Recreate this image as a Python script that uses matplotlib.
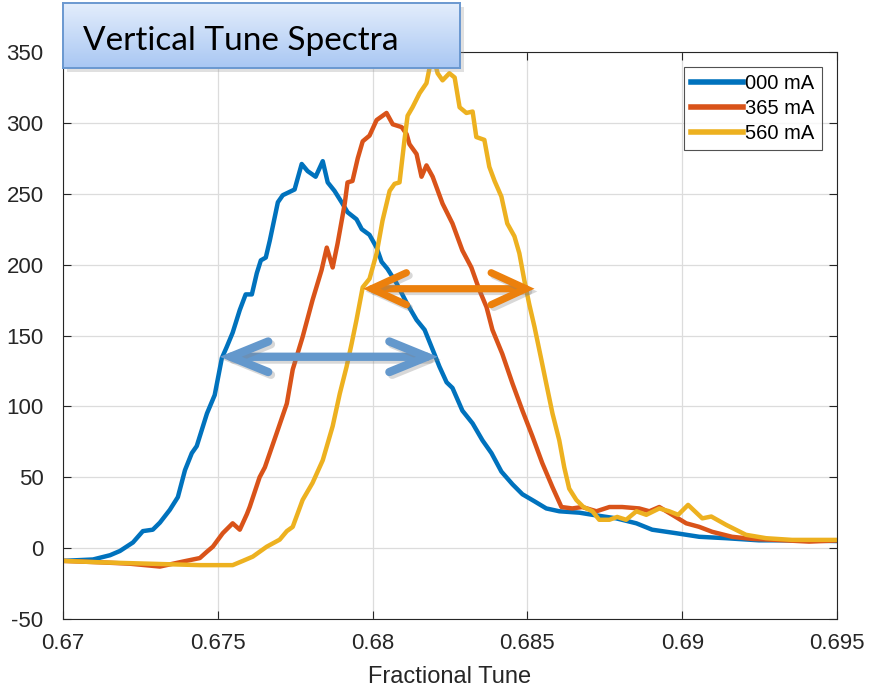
import matplotlib.pyplot as plt
import matplotlib.patheffects as pe
import numpy as np

plt.rcParams['font.family'] = ['Liberation Sans', 'DejaVu Sans']
plt.rcParams['axes.unicode_minus'] = False

# fractional tune / amplitude
tune_000 = [0.67, 0.67097, 0.67152, 0.67184, 0.67226, 0.67258, 0.67290, 0.67313, 0.67345,
            0.67371, 0.67394, 0.67416, 0.67432, 0.67465, 0.67490, 0.67513, 0.67529, 0.67548,
            0.67571, 0.67590, 0.67610, 0.67626, 0.67639, 0.67655, 0.67668, 0.67694, 0.67710,
            0.67748, 0.67771, 0.67790, 0.67816, 0.67839, 0.67855, 0.67877, 0.67900, 0.67919,
            0.67948, 0.67965, 0.67990, 0.68013, 0.68029, 0.68048, 0.68077, 0.68110, 0.68142,
            0.68168, 0.68194, 0.68216, 0.68239, 0.68258, 0.68290, 0.68323, 0.68355, 0.68384,
            0.68416, 0.68452, 0.68484, 0.68523, 0.68561, 0.68603, 0.68668, 0.68710, 0.68787,
            0.68852, 0.68903, 0.68981, 0.69055, 0.69142, 0.69248, 0.69355, 0.695]
amp_000 = [-9, -8, -5, -2, 4, 12, 13, 18, 27,
           36, 55, 67, 72, 95, 108, 134, 142, 152,
           168, 179, 179, 194, 203, 205, 217, 244, 249,
           253, 271, 266, 262, 273, 258, 252, 244, 237,
           232, 225, 221, 212, 202, 197, 187, 173, 161,
           154, 140, 128, 117, 113, 97, 88, 76, 67,
           54, 45, 38, 33, 28, 26, 25, 23.5, 21,
           17.5, 13, 10.5, 8, 7, 5.5, 5.5, 5]

tune_365 = [0.67, 0.67119, 0.67216, 0.67313, 0.67387, 0.67442, 0.67465, 0.67484, 0.67516,
            0.67548, 0.67571, 0.67594, 0.67603, 0.67635, 0.67652, 0.67690, 0.67723, 0.67742,
            0.67774, 0.67806, 0.67835, 0.67852, 0.67871, 0.67887, 0.67910, 0.67919, 0.67935,
            0.67952, 0.67968, 0.67990, 0.68013, 0.68045, 0.68065, 0.68094, 0.68110, 0.68119,
            0.68142, 0.68158, 0.68174, 0.68194, 0.68226, 0.68258, 0.68290, 0.68319, 0.68345,
            0.68368, 0.68387, 0.68419, 0.68452, 0.68484, 0.68516, 0.68548, 0.68581, 0.68610,
            0.68645, 0.68677, 0.68723, 0.68765, 0.68806, 0.68861, 0.68894, 0.68926, 0.68968,
            0.69013, 0.69055, 0.69097, 0.69161, 0.69226, 0.69303, 0.69410, 0.695]
amp_365 = [-9, -10, -11, -13, -9.5, -7, -2.5, 1, 10.5,
           17.5, 13, 24, 29, 50, 57, 81, 102, 126,
           149, 175, 196, 212, 198, 215, 243, 258, 259,
           275, 287, 291, 302, 307, 299, 297, 292, 285,
           278, 262, 270, 262, 243, 229, 210, 198, 182,
           170, 154, 137, 116, 97, 79, 60, 43, 29,
           28, 29, 26, 29, 29, 28, 26, 29, 23.5,
           17.5, 15, 11.5, 8, 6.5, 5.8, 4.6, 5.4]

tune_560 = [0.67, 0.67119, 0.67281, 0.67442, 0.67548, 0.67581, 0.67613, 0.67658, 0.67700,
            0.67723, 0.67742, 0.67774, 0.67806, 0.67839, 0.67871, 0.67894, 0.67916, 0.67932,
            0.67948, 0.67968, 0.67990, 0.68013, 0.68032, 0.68055, 0.68071, 0.68087, 0.68103,
            0.68113, 0.68129, 0.68152, 0.68174, 0.68187, 0.68197, 0.68210, 0.68226, 0.68248,
            0.68265, 0.68281, 0.68303, 0.68323, 0.68335, 0.68361, 0.68377, 0.68394, 0.68416,
            0.68435, 0.68458, 0.68474, 0.68490, 0.68506, 0.68523, 0.68545, 0.68561, 0.68581,
            0.68603, 0.68619, 0.68635, 0.68658, 0.68681, 0.68710, 0.68732, 0.68765, 0.68790,
            0.68819, 0.68852, 0.68884, 0.68926, 0.68958, 0.68987, 0.69019, 0.69065, 0.69094,
            0.69142, 0.69206, 0.69271, 0.69355, 0.695]
amp_560 = [-9, -10, -11, -12, -12, -9, -6, 1, 6,
           12, 15, 34, 46, 62, 86, 109, 128, 144,
           161, 184, 190, 208, 231, 252, 257, 258, 288,
           305, 311, 321, 328, 342, 346, 335, 330, 335,
           332, 311, 307, 308, 290, 288, 269, 259, 248,
           229, 220, 208, 189, 172, 156, 133, 116, 95,
           76, 57, 42, 34, 29, 26, 20, 20, 22,
           20, 26, 23.5, 28, 26, 23.5, 30.5, 21, 22.3,
           16.4, 9.4, 7, 5.8, 5.8]

labels = ['000 mA', '365 mA', '560 mA']
colors = ['#0072BD', '#D95319', '#EDB120']

# FWHM arrows: (left tune, right tune, level)
fwhm_000 = (0.67506, 0.68211, 135)
fwhm_560 = (0.67969, 0.68523, 183)

xticks = [0.67, 0.675, 0.68, 0.685, 0.69, 0.695]
xticklabels = ['0.67', '0.675', '0.68', '0.685', '0.69', '0.695']
yticks = [-50, 0, 50, 100, 150, 200, 250, 300, 350]

fig = plt.figure(figsize=(8.79, 6.88), dpi=100)
ax = fig.add_axes([63 / 879, 1 - 619 / 688, 774 / 879, 567 / 688])

for t, a, lab, c in zip([tune_000, tune_365, tune_560], [amp_000, amp_365, amp_560], labels, colors):
    ax.plot(t, a, color=c, lw=3.2, label=lab, solid_joinstyle='round')

ax.set_xlim(0.67, 0.695)
ax.set_ylim(-50, 350)
ax.set_xticks(xticks)
ax.set_xticklabels(xticklabels)
ax.set_yticks(yticks)
ax.grid(True, color='#dcdcdc', lw=0.9)
ax.set_axisbelow(True)
ax.tick_params(direction='in', top=True, right=True, labelsize=16, colors='#262626',
               length=6, width=0.8)
ax.tick_params(axis='y', pad=14)
ax.tick_params(axis='x', pad=10)
for s in ax.spines.values():
    s.set_color('#262626')
    s.set_linewidth(0.8)
ax.set_xlabel('Fractional Tune', fontsize=17, color='#262626', labelpad=9)

leg = ax.legend(loc='upper right', fontsize=14.5, handlelength=2.6, handletextpad=0.1,
                borderaxespad=0.75, labelspacing=0.3, fancybox=False, borderpad=0.35)
leg.get_frame().set_edgecolor('#262626')
leg.get_frame().set_linewidth(0.8)
for line in leg.get_lines():
    line.set_linewidth(4)

shadow = [pe.SimpleLineShadow(offset=(2, -2), shadow_color='gray', alpha=0.3), pe.Normal()]
for (x0, x1, yv), c, lw, hl, hw in [(fwhm_000, '#6498CC', 6, 27, 11),
                                    (fwhm_560, '#EC800C', 5.2, 25, 11.5)]:
    ax.annotate('', xy=(x1, yv), xytext=(x0, yv),
                arrowprops=dict(arrowstyle=f'<->,head_length={hl / 10},head_width={hw / 10}',
                                mutation_scale=10, lw=lw, color=c, shrinkA=0, shrinkB=0,
                                joinstyle='miter', capstyle='round',
                                path_effects=shadow))

# title box with gradient and shadow
sh = fig.add_axes([67 / 879, 1 - 72 / 688, 397 / 879, 65 / 688])
sh.set_facecolor('#9a9a9a')
sh.patch.set_alpha(0.3)
sh.set_xticks([])
sh.set_yticks([])
for s in sh.spines.values():
    s.set_visible(False)
tb = fig.add_axes([63 / 879, 1 - 68 / 688, 397 / 879, 65 / 688])
grad = np.linspace(0, 1, 100)[:, None]
cmap = plt.matplotlib.colors.LinearSegmentedColormap.from_list('g', ['#e4eefc', '#a9c7f3'])
tb.imshow(grad, aspect='auto', cmap=cmap, extent=[0, 1, 0, 1], origin='upper')
tb.set_xlim(0, 1)
tb.set_ylim(0, 1)
tb.set_xticks([])
tb.set_yticks([])
for s in tb.spines.values():
    s.set_color('#6a98d0')
    s.set_linewidth(1.4)
tb.text(20 / 397, 18 / 65, 'Vertical Tune Spectra', fontsize=24, family=['Lato', 'DejaVu Sans'],
        va='baseline', ha='left', color='black')

fig.savefig('out.png', dpi=100)
